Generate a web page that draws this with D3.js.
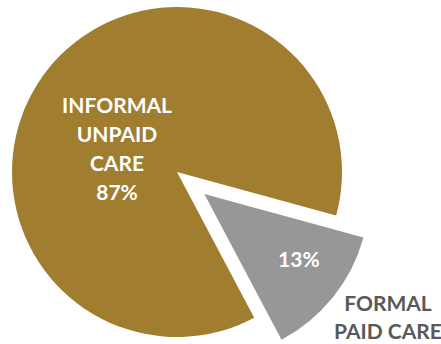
<!DOCTYPE html>
<html>
<head>
<meta charset="utf-8">
<script src="https://cdn.jsdelivr.net/npm/d3@7"></script>
<style>
  html, body { margin: 0; padding: 0; background: #fff; }
  svg { display: block; }
</style>
</head>
<body>
<svg id="chart" width="441" height="344"></svg>
<script>
// Share of care by type
const categories = ["INFORMAL UNPAID CARE", "FORMAL PAID CARE"];
const values = [87, 13];
const labelLines = [["INFORMAL", "UNPAID", "CARE"], ["FORMAL", "PAID CARE"]];
const colors = ["#A17D2F", "#979797"];

const svg = d3.select("#chart");
const cx = 177, cy = 172, radius = 165;
const explode = [0, 35];

// Grey slice centred at ~128.7° clockwise from 12 o'clock
const pie = d3.pie().sort(null).value(d => d)
  .startAngle((152.1 * Math.PI) / 180)
  .endAngle((152.1 * Math.PI) / 180 + 2 * Math.PI);
const arcs = pie(values);
const arc = d3.arc().innerRadius(0).outerRadius(radius);

const g = svg.append("g").attr("transform", `translate(${cx},${cy})`);

function offset(d, i) {
  const mid = (d.startAngle + d.endAngle) / 2;
  return [Math.sin(mid) * explode[i], -Math.cos(mid) * explode[i]];
}

g.selectAll("path.slice").data(arcs).join("path")
  .attr("class", "slice")
  .attr("d", arc)
  .attr("fill", (d, i) => colors[i])
  .attr("transform", (d, i) => `translate(${offset(d, i)})`);

const font = "Lato, 'Open Sans', sans-serif";

// Large slice label inside the slice
const bigLines = labelLines[0].concat([values[0] + "%"]);
const bigText = svg.append("text")
  .attr("font-family", font).attr("font-weight", 700).attr("font-size", 21)
  .attr("fill", "#fff").attr("text-anchor", "middle");
bigLines.forEach((t, k) => {
  bigText.append("tspan").attr("x", 117).attr("y", 113 + k * 29).text(t);
});

// Small slice value inside the slice, placed along its mid angle
const [ox, oy] = offset(arcs[1], 1);
const labelArc = d3.arc().innerRadius(116).outerRadius(116);
const c1 = labelArc.centroid(arcs[1]);
svg.append("text")
  .attr("x", cx + ox + c1[0] + 4).attr("y", cy + oy + c1[1] + 1)
  .attr("font-family", font).attr("font-weight", 700).attr("font-size", 21)
  .attr("fill", "#fff").attr("text-anchor", "middle")
  .text(values[1] + "%");

// Small slice category outside
const outText = svg.append("text")
  .attr("font-family", font).attr("font-weight", 700).attr("font-size", 21)
  .attr("fill", "#595959").attr("text-anchor", "middle");
labelLines[1].forEach((t, k) => {
  outText.append("tspan").attr("x", 388).attr("y", 311 + k * 28).text(t);
});
</script>
</body>
</html>
